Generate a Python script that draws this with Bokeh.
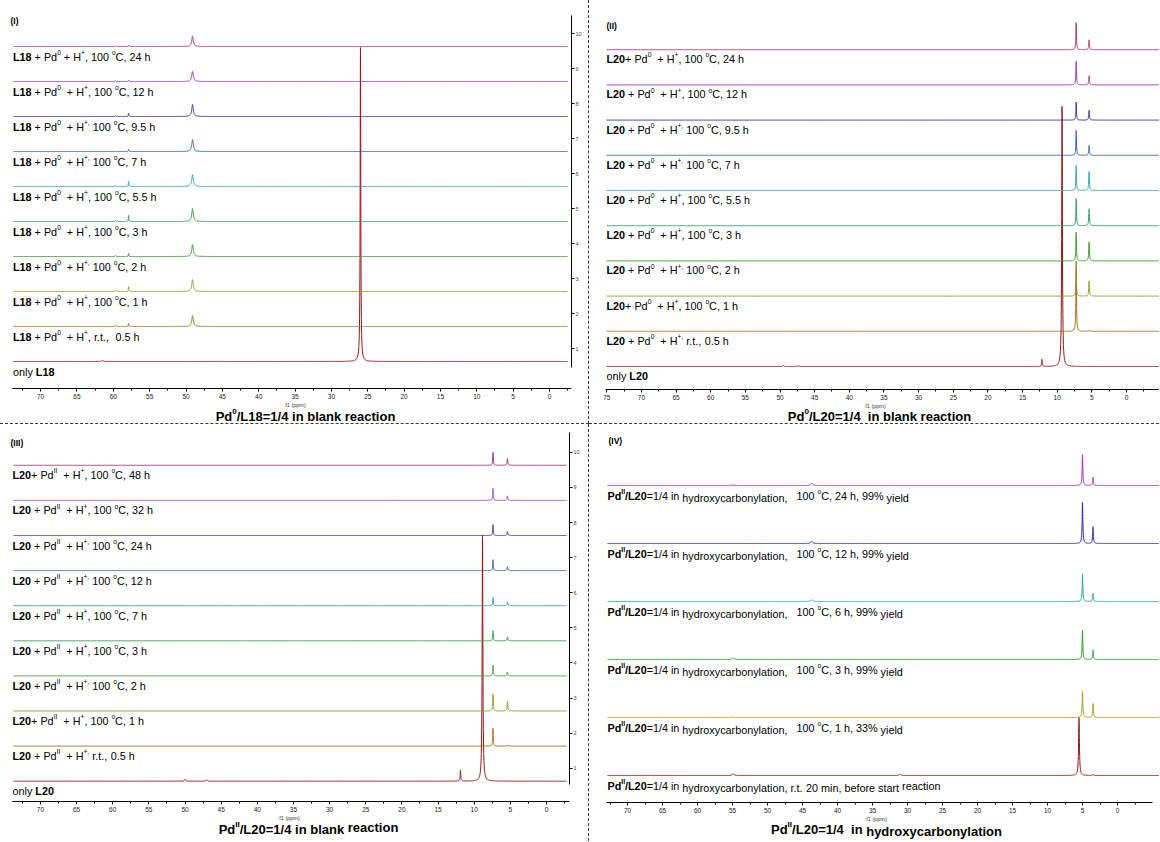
import numpy as np
from bokeh.plotting import figure
from bokeh.models import ColumnDataSource, SingleIntervalTicker, FixedTicker, Range1d
from bokeh.layouts import column, row
from bokeh.embed import file_html
from bokeh.resources import INLINE
from bokeh.core.properties import value

FONT = "Liberation Sans"
NARROW = "'Liberation Sans Narrow', 'Liberation Sans'"

# ============================ DATA ============================
# Each panel: signal shifts (ppm), half-widths (ppm), and per-trace heights
# (trace 1 = bottom ... top), heights in units of the trace spacing.

# ---- Panel (I) ----
P1_SHIFTS = [26.0, 49.1, 57.9, 59.7, 61.5]
P1_WIDTHS = [0.05, 0.13, 0.04, 0.05, 0.12]
P1_HEIGHTS = [
    [8.97, 0.00, 0.00, 0.00, 0.03],
    [0.00, 0.31, 0.09, 0.03, 0.00],
    [0.00, 0.34, 0.14, 0.03, 0.00],
    [0.00, 0.34, 0.09, 0.03, 0.00],
    [0.00, 0.37, 0.17, 0.03, 0.00],
    [0.00, 0.34, 0.15, 0.03, 0.00],
    [0.00, 0.34, 0.06, 0.02, 0.00],
    [0.00, 0.34, 0.10, 0.02, 0.00],
    [0.00, 0.29, 0.04, 0.02, 0.00],
    [0.00, 0.29, 0.03, 0.02, 0.00],
]
P1_COLORS = ["#951414", "#a8701e", "#8c9a2c", "#3a9a2a", "#2e9a5c",
             "#2ea3a3", "#3a5ea8", "#34309e", "#9438b0", "#a8346e"]
P1_LABELS = [
    "only **L18**",
    "**L18** + Pd^0^  + H^+^, r.t.,  0.5 h",
    "**L18** + Pd^0^  + H^+^, 100 ^o^C, 1 h",
    "**L18** + Pd^0^  + H^+,^ 100 ^o^C, 2 h",
    "**L18** + Pd^0^  + H^+^, 100 ^o^C, 3 h",
    "**L18** + Pd^0^  + H^+^, 100 ^o^C, 5.5 h",
    "**L18** + Pd^0^  + H^+,^ 100 ^o^C, 7 h",
    "**L18** + Pd^0^  + H^+,^ 100 ^o^C, 9.5 h",
    "**L18** + Pd^0^  + H^+^, 100 ^o^C, 12 h",
    "**L18** + Pd^0^ + H^+^, 100 ^o^C, 24 h",
]
P1_TITLE = "Pd^0^/L18=1/4 in blank reaction"
P1_TAG = "(I)"

# ---- Panel (II) ----
P2_SHIFTS = [9.3, 12.2, 7.26, 5.4, 49.5, 47.3]
P2_WIDTHS = [0.06, 0.05, 0.05, 0.06, 0.10, 0.10]
P2_HEIGHTS = [
    [7.39, 0.20, 0.00, 0.00, 0.03, 0.02],
    [0.00, 0.00, 1.99, 0.04, 0.00, 0.00],
    [0.00, 0.00, 0.75, 0.43, 0.00, 0.00],
    [0.00, 0.00, 0.82, 0.54, 0.00, 0.00],
    [0.00, 0.00, 0.77, 0.48, 0.00, 0.00],
    [0.00, 0.00, 0.71, 0.54, 0.00, 0.00],
    [0.00, 0.00, 0.71, 0.28, 0.00, 0.00],
    [0.00, 0.00, 0.51, 0.28, 0.00, 0.00],
    [0.00, 0.00, 0.68, 0.26, 0.00, 0.00],
    [0.00, 0.00, 0.77, 0.28, 0.00, 0.00],
]
P2_COLORS = ["#951414", "#a8701e", "#8c9a22", "#3a9a2a", "#2e9a5c",
             "#2ea3a3", "#3a5ea8", "#34309e", "#9438b0", "#a8346e"]
P2_LABELS = [
    "only **L20**",
    "**L20** + Pd^0^  + H^+,^ r.t., 0.5 h",
    "**L20**+ Pd^0^  + H^+^, 100 ^o^C, 1 h",
    "**L20** + Pd^0^  + H^+,^ 100 ^o^C, 2 h",
    "**L20** + Pd^0^  + H^+^, 100 ^o^C, 3 h",
    "**L20** + Pd^0^  + H^+^, 100 ^o^C, 5.5 h",
    "**L20** + Pd^0^  + H^+,^ 100 ^o^C, 7 h",
    "**L20** + Pd^0^  + H^+,^ 100 ^o^C, 9.5 h",
    "**L20** + Pd^0^  + H^+^, 100 ^o^C, 12 h",
    "**L20**+ Pd^0^  + H^+^, 100 ^o^C, 24 h",
]
P2_TITLE = "Pd^0^/L20=1/4  in blank reaction"
P2_TAG = "(II)"

# ---- Panel (III) ----
P3_SHIFTS = [8.85, 11.9, 7.4, 5.4, 50.0, 47.0]
P3_WIDTHS = [0.06, 0.05, 0.05, 0.06, 0.10, 0.10]
P3_HEIGHTS = [
    [7.00, 0.32, 0.00, 0.00, 0.05, 0.04],
    [0.00, 0.00, 0.51, 0.03, 0.00, 0.00],
    [0.00, 0.00, 0.48, 0.28, 0.00, 0.00],
    [0.00, 0.00, 0.31, 0.11, 0.00, 0.00],
    [0.00, 0.00, 0.29, 0.11, 0.00, 0.00],
    [0.00, 0.00, 0.23, 0.11, 0.00, 0.00],
    [0.00, 0.00, 0.31, 0.11, 0.00, 0.00],
    [0.00, 0.00, 0.31, 0.11, 0.00, 0.00],
    [0.00, 0.00, 0.34, 0.13, 0.00, 0.00],
    [0.00, 0.00, 0.37, 0.19, 0.00, 0.00],
]
P3_COLORS = ["#951414", "#a06a14", "#8aa020", "#4a9a3a", "#2a9a50",
             "#30a0a0", "#3a5aa8", "#4030a0", "#a040c0", "#a0307a"]
P3_LABELS = [
    "only **L20**",
    "**L20** + Pd^II^  + H^+,^ r.t., 0.5 h",
    "**L20**+ Pd^II^  + H^+^, 100 ^o^C, 1 h",
    "**L20** + Pd^II^  + H^+,^ 100 ^o^C, 2 h",
    "**L20** + Pd^II^  + H^+^, 100 ^o^C, 3 h",
    "**L20** + Pd^II^  + H^+^, 100 ^o^C, 7 h",
    "**L20** + Pd^II^  + H^+,^ 100 ^o^C, 12 h",
    "**L20** + Pd^II^  + H^+,^ 100 ^o^C, 24 h",
    "**L20** + Pd^II^  + H^+^, 100 ^o^C, 32 h",
    "**L20**+ Pd^II^  + H^+^, 100 ^o^C, 48 h",
]
P3_TITLE = "Pd^II^/L20=1/4 in blank `reaction`"
P3_TAG = "(III)"

# ---- Panel (IV) ----
P4_SHIFTS = [5.5, 5.0, 3.5, 43.7, 54.9, 31.1]
P4_WIDTHS = [0.07, 0.06, 0.06, 0.15, 0.15, 0.15]
P4_HEIGHTS = [
    [1.00, 0.00, 0.02, 0.00, 0.03, 0.02],
    [0.00, 0.45, 0.24, 0.00, 0.01, 0.00],
    [0.00, 0.50, 0.16, 0.00, 0.03, 0.00],
    [0.00, 0.47, 0.14, 0.03, 0.00, 0.00],
    [0.00, 0.71, 0.29, 0.04, 0.00, 0.00],
    [0.00, 0.53, 0.14, 0.04, 0.01, 0.00],
]
P4_COLORS = ["#951414", "#a0a020", "#2a9a2a", "#2aa0a0", "#2a2aa0", "#a030b0"]
P4_LABELS = [
    "**Pd^II^/L20**=1/4 in ~hydroxycarbonylation, r.t. 20 min, before start~ reaction",
    "**Pd^II^/L20**=1/4 in ~hydroxycarbonylation,~   100 ^o^C, 1 h, 33% ~yield~",
    "**Pd^II^/L20**=1/4 in ~hydroxycarbonylation,~   100 ^o^C, 3 h, 99% ~yield~",
    "**Pd^II^/L20**=1/4 in ~hydroxycarbonylation,~   100 ^o^C, 6 h, 99% ~yield~",
    "**Pd^II^/L20**=1/4 in ~hydroxycarbonylation,~   100 ^o^C, 12 h, 99% ~yield~",
    "**Pd^II^/L20**=1/4 in ~hydroxycarbonylation,~   100 ^o^C, 24 h, 99% ~yield~",
]
P4_TITLE = "Pd^II^/L20=1/4  in ~hydroxycarbonylation~"
P4_TAG = "(IV)"

X_TICK_STEP = 5
Y_TICKS = list(range(1, 11))
X_AXIS_LABEL = "f1 (ppm)"

# ============================ TEXT HELPERS ============================
_UP = "ABCDEFGHIJKLMNOPQRSTUVWXYZ"
_LO = "abcdefghijklmnopqrstuvwxyz"
W_REG = dict(zip(_UP, [667, 667, 722, 722, 667, 611, 778, 722, 278, 500, 667, 556, 833,
                       722, 778, 667, 778, 722, 667, 611, 722, 667, 944, 667, 667, 611]))
W_REG.update(zip(_LO, [556, 556, 500, 556, 556, 278, 556, 556, 222, 222, 500, 222, 833,
                       556, 556, 556, 556, 333, 500, 278, 556, 500, 722, 500, 500, 500]))
W_BOLD = dict(zip(_UP, [722, 722, 722, 722, 667, 611, 778, 722, 278, 556, 722, 611, 833,
                        722, 778, 667, 778, 722, 667, 611, 722, 667, 944, 667, 667, 611]))
W_BOLD.update(zip(_LO, [556, 611, 556, 611, 556, 333, 611, 611, 278, 278, 556, 278, 889,
                        611, 611, 611, 611, 389, 556, 333, 611, 556, 778, 556, 556, 500]))
for _t in (W_REG, W_BOLD):
    _t.update({" ": 278, "+": 584, ",": 278, ".": 278, "/": 278, "=": 584, "%": 889,
               "(": 333, ")": 333, "-": 333, ":": 278})


def text_width(s, bold, size):
    tbl = W_BOLD if bold else W_REG
    return sum(tbl.get(c, 556) for c in s) * size / 1000.0


def parse_rich(s, bold=False):
    segs, cur = [], ""
    b, sup, low, rai = bold, False, False, False
    i = 0
    while i < len(s):
        if s.startswith("**", i):
            if cur:
                segs.append((cur, b, sup, low, rai)); cur = ""
            b = not b; i += 2; continue
        c = s[i]
        if c in "^~`":
            if cur:
                segs.append((cur, b, sup, low, rai)); cur = ""
            if c == "^":
                sup = not sup
            elif c == "~":
                low = not low
            else:
                rai = not rai
            i += 1; continue
        cur += c; i += 1
    if cur:
        segs.append((cur, b, sup, low, rai))
    return segs


def layout_rich(markup, size, bold=False):
    out, x = [], 0.0
    for text, b, sup, low, rai in parse_rich(markup, bold):
        fs = round(size * 0.62, 1) if sup else size
        dy = -0.40 * size if sup else (0.17 * size if low else (-0.17 * size if rai else 0.0))
        word = ""
        for ch in text:
            if ch == " ":
                if word:
                    out.append((word, b, fs, x, dy)); x += text_width(word, b, fs); word = ""
                x += text_width(" ", b, fs)
            else:
                word += ch
        if word:
            out.append((word, b, fs, x, dy)); x += text_width(word, b, fs)
    return out, x


def spectrum(x_lo, x_hi, shifts, widths, heights, base):
    grid = [np.arange(x_lo, x_hi, 0.05), [x_lo, x_hi]]
    for s, w, h in zip(shifts, widths, heights):
        if h > 0:
            d = np.geomspace(0.05, 80, 45) * w
            grid.append(s + np.concatenate([-d[::-1], [0.0], d]))
    x = np.unique(np.concatenate(grid))
    x = x[(x >= x_lo) & (x <= x_hi)]
    y = np.full_like(x, float(base))
    for s, w, h in zip(shifts, widths, heights):
        y += h * w ** 2 / ((x - s) ** 2 + w ** 2)
    return x[::-1], y[::-1]


LABEL_SIZE = 10.8
TITLE_SIZE = 13
DASH = "1px dashed #3a3a3a"


def make_panel(cfg):
    ox, oy = cfg["origin"]
    w, h = cfg["size"]
    br = cfg["border_right"]
    shift = cfg["shift"]

    def x_of(px):           # page x -> ppm
        return (cfg["zero_px"] - px) / cfg["ppm_px"]

    def y_of(py):           # page y -> stacked value
        return (1 - shift) + (cfg["base1"] - py) / cfg["spacing"]

    xr = Range1d(x_of(ox), x_of(ox + w - br))
    yr = Range1d(y_of(oy + h), y_of(oy))
    p = figure(width=w, height=h, x_range=xr, y_range=yr, output_backend="svg",
               toolbar_location=None, y_axis_location="right" if cfg["yaxis"] else None,
               min_border_left=0, min_border_right=br, min_border_top=0, min_border_bottom=0,
               styles=cfg["styles"])
    p.xgrid.visible = False
    p.ygrid.visible = False
    p.outline_line_color = None
    p.background_fill_color = "white"
    p.border_fill_color = "white"

    ax = p.xaxis[0]
    ax.fixed_location = y_of(cfg["axis_y"])
    ax.bounds = (x_of(cfg["axis_x"][0]), x_of(cfg["axis_x"][1]))
    ax.ticker = SingleIntervalTicker(interval=X_TICK_STEP, num_minor_ticks=2)
    ax.major_label_text_font = NARROW
    ax.major_label_text_font_size = "6.5px"
    ax.major_label_standoff = 2
    ax.major_tick_out = 3
    ax.major_tick_in = 0
    ax.minor_tick_out = 2
    ax.minor_tick_in = 0
    ax.axis_line_color = "black"
    ax.major_label_text_color = "#222222"

    if cfg["yaxis"]:
        ay = p.yaxis[0]
        ay.ticker = FixedTicker(ticks=Y_TICKS)
        ay.bounds = (y_of(cfg["ybounds"][0]), y_of(cfg["ybounds"][1]))
        ay.major_tick_out = 3
        ay.major_tick_in = 0
        ay.minor_tick_line_color = None
        ay.major_label_standoff = 1
        ay.major_label_text_font = NARROW
        ay.major_label_text_font_size = "5.5px"
        ay.axis_line_color = "black"

    # spectra
    lo, hi = x_of(cfg["trace_x"][1]), x_of(cfg["trace_x"][0])
    xs, ys = [], []
    for k, hrow in enumerate(cfg["heights"]):
        sx, sy = spectrum(lo, hi, cfg["shifts"], cfg["widths"], hrow, k + 1 - shift)
        xs.append(sx); ys.append(sy)
    src = ColumnDataSource(dict(xs=xs, ys=ys, color=cfg["colors"]))
    p.multi_line("xs", "ys", line_color="color", line_width=1, source=src)

    groups = {}

    def put(markup, xd, yd, size, bold=False, x_off=0.0, y_off=0.0, center=False):
        words, W = layout_rich(markup, size, bold)
        start = -W / 2 if center else 0.0
        for word, b, fs, dx, dy in words:
            g = groups.setdefault((b, fs), dict(x=[], y=[], text=[], xo=[], yo=[]))
            g["x"].append(xd); g["y"].append(yd); g["text"].append(word)
            g["xo"].append(x_off + start + dx); g["yo"].append(y_off + dy)

    # trace labels, hung below each baseline
    for k, lab in enumerate(cfg["labels"]):
        put(lab, x_of(cfg["label_x"]), k + 1 - shift, LABEL_SIZE, y_off=cfg["label_dy"])
    # axis name, panel title, panel tag
    put(X_AXIS_LABEL, x_of(cfg["f1_pos"][0]), y_of(cfg["f1_pos"][1]), 5.5, center=True)
    put(cfg["title"], x_of(cfg["title_pos"][0]), y_of(cfg["title_pos"][1]), TITLE_SIZE,
        bold=True, center=True)
    put(cfg["tag"], x_of(cfg["tag_pos"][0]), y_of(cfg["tag_pos"][1]), 8.5, bold=True)

    for (b, fs), g in groups.items():
        font = NARROW if fs == 5.5 else FONT
        p.text("x", "y", text="text", x_offset="xo", y_offset="yo", source=ColumnDataSource(g),
               text_font=value(font), text_font_size=value(f"{fs}px"),
               text_font_style="bold" if b else "normal",
               text_color="#333333" if fs == 5.5 else "black",
               text_align="left", text_baseline="alphabetic")
    return p


p1 = make_panel(dict(origin=(0, 0), size=(589, 424), border_right=18,
                     zero_px=549, ppm_px=7.27, axis_x=(12, 571), trace_x=(13, 567),
                     base1=361, spacing=35.0, shift=0.37, axis_y=388, ybounds=(367, 15),
                     yaxis=True, shifts=P1_SHIFTS, widths=P1_WIDTHS, heights=P1_HEIGHTS,
                     colors=P1_COLORS, labels=P1_LABELS, label_x=12.5, label_dy=10.5,
                     f1_pos=(295, 404), title=P1_TITLE, title_pos=(305, 416),
                     tag=P1_TAG, tag_pos=(10, 20),
                     styles={"border-right": DASH, "border-bottom": DASH}))
p2 = make_panel(dict(origin=(590, 0), size=(570, 424), border_right=0,
                     zero_px=1127, ppm_px=6.93, axis_x=(606, 1160), trace_x=(607, 1160),
                     base1=366, spacing=35.2, shift=0.0, axis_y=389,
                     yaxis=False, shifts=P2_SHIFTS, widths=P2_WIDTHS, heights=P2_HEIGHTS,
                     colors=P2_COLORS, labels=P2_LABELS, label_x=607, label_dy=9.5,
                     f1_pos=(876, 405), title=P2_TITLE, title_pos=(880, 416),
                     tag=P2_TAG, tag_pos=(607, 25),
                     styles={"border-bottom": DASH}))
p3 = make_panel(dict(origin=(0, 425), size=(589, 417), border_right=20,
                     zero_px=546, ppm_px=7.23, axis_x=(12, 569), trace_x=(13, 566),
                     base1=781.7, spacing=35.1, shift=0.37, axis_y=802, ybounds=(785, 433),
                     yaxis=True, shifts=P3_SHIFTS, widths=P3_WIDTHS, heights=P3_HEIGHTS,
                     colors=P3_COLORS, labels=P3_LABELS, label_x=12, label_dy=10,
                     f1_pos=(289, 818), title=P3_TITLE, title_pos=(308, 830),
                     tag=P3_TAG, tag_pos=(10, 443),
                     styles={"border-right": DASH}))
p4 = make_panel(dict(origin=(590, 425), size=(570, 417), border_right=0,
                     zero_px=1118, ppm_px=7.0, axis_x=(607, 1152.5), trace_x=(608, 1160),
                     base1=776, spacing=58, shift=0.0, axis_y=803,
                     yaxis=False, shifts=P4_SHIFTS, widths=P4_WIDTHS, heights=P4_HEIGHTS,
                     colors=P4_COLORS, labels=P4_LABELS, label_x=608, label_dy=10.5,
                     f1_pos=(877, 819), title=P4_TITLE, title_pos=(887, 830),
                     tag=P4_TAG, tag_pos=(609, 441),
                     styles={}))

layout = column(row(p1, p2), row(p3, p4))
open("out.html", "w").write(file_html(layout, INLINE, title="NMR stacked spectra"))
